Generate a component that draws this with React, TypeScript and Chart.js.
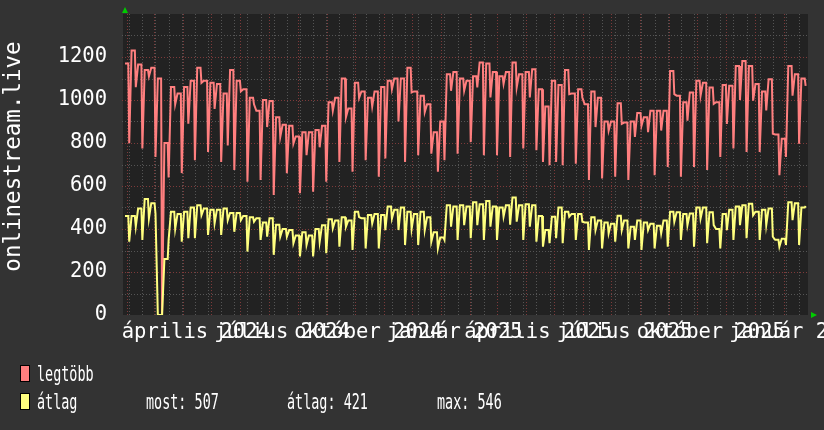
import React, { useEffect, useRef } from "react";
import { Chart, registerables } from "chart.js";

Chart.register(...registerables);

// ---- data (per week: plateau value and weekend/drop value) ----
const legtobbHi = [
  1170, 1230, 1165, 1140, 1150, 1100, 800, 1060, 1030, 1060,
  1090, 1150, 1090, 1080, 1075, 1030, 1140, 1090, 1050, 1010,
  950, 1000, 995, 920, 885, 880, 830, 850, 850, 860,
  880, 990, 1010, 1100, 960, 1080, 1040, 1010, 1040, 1060,
  1090, 1100, 1100, 1150, 1040, 1020, 980, 850, 900, 1120,
  1130, 1100, 1090, 1110, 1175, 1170, 1130, 1110, 1130, 1175,
  1120, 1130, 1143, 1050, 970, 1090, 1070, 1140, 1030, 1050,
  980, 1040, 1010, 900, 900, 985, 895, 900, 940, 920,
  950, 950, 950, 1135, 1020, 990, 1035, 1089, 1080, 1058,
  990, 1070, 1066, 1158, 1181, 1158, 1074, 1040, 1097, 840,
  820, 1158, 1120, 1100,
];
const legtobbLo = [
  800, 1060, 774, 1110, 735, 0, 640, 980, 660, 890,
  720, 1080, 758, 958, 712, 789, 674, 1040, 620, 980,
  628, 874, 558, 828, 659, 797, 566, 743, 573, 780,
  620, 950, 712, 920, 666, 1010, 720, 970, 643, 728,
  1050, 900, 712, 1035, 743, 943, 750, 666, 720, 1043,
  750, 1043, 804, 1058, 743, 1012, 743, 1075, 735, 1058,
  774, 1012, 766, 712, 697, 712, 697, 1027, 704, 1010,
  628, 874, 635, 858, 643, 889, 628, 828, 880, 850,
  650, 858, 689, 1027, 643, 904, 689, 1020, 674, 982,
  735, 889, 774, 1000, 758, 997, 758, 951, 843, 650,
  735, 1020, 797, 1066,
];
const atlagHi = [
  460, 460, 495, 540, 520, 0, 260, 480, 470, 480,
  500, 510, 495, 490, 490, 495, 475, 475, 460, 455,
  450, 430, 450, 420, 400, 395, 370, 385, 370, 400,
  418, 445, 440, 455, 440, 480, 450, 465, 470, 465,
  505, 490, 500, 480, 470, 480, 455, 385, 360, 510,
  505, 510, 505, 525, 515, 530, 505, 500, 510, 546,
  510, 515, 510, 460, 395, 457, 500, 480, 470, 470,
  430, 455, 440, 430, 425, 462, 440, 410, 440, 430,
  425, 415, 440, 480, 478, 470, 472, 500, 500, 478,
  400, 470, 490, 505, 510, 518, 480, 490, 495, 350,
  355, 525, 520, 500,
];
const atlagLo = [
  341, 411, 349, 449, 472, 0, 350, 400, 341, 357,
  357, 464, 372, 426, 372, 441, 387, 441, 295, 434,
  349, 364, 280, 364, 364, 334, 272, 326, 272, 340,
  287, 403, 318, 411, 303, 455, 310, 426, 310, 395,
  449, 395, 326, 400, 326, 395, 341, 310, 350, 411,
  349, 418, 357, 418, 349, 411, 349, 457, 420, 434,
  349, 411, 341, 318, 334, 357, 334, 457, 349, 434,
  303, 395, 310, 380, 341, 395, 310, 349, 303, 395,
  310, 380, 318, 434, 349, 418, 318, 449, 334, 418,
  310, 395, 349, 418, 357, 464, 349, 418, 364, 318,
  326, 441, 326, 507,
];

// x axis: days since 2024-01-30
const DAYS = 728;
const monthStartDays = [2, 31, 62, 92, 123, 153, 184, 215, 245, 276, 306, 337, 368, 396, 427, 457, 488, 518, 549, 580, 610, 641, 671, 702];
const minorGridStartDay = 4.5;
const minorGridStepDays = 14;
const xLabelDays = [76.5, 168.5, 260.5, 352.5, 441.5, 533.5, 625.5, 717.5];
const xLabels = ["április 2024", "július 2024", "október 2024", "január 2025", "április 2025", "július 2025", "október 2025", "január 2026"];
const yTicks = [0, 200, 400, 600, 800, 1000, 1200];
const yMinor = [100, 300, 500, 700, 900, 1100, 1300];
const yMajor = [200, 400, 600, 800, 1000, 1200];
const yTitle = "onlinestream.live";
const seriesNames = ["legtöbb", "átlag"];
const seriesColors = ["#FF7F7F", "#FFFF7F"];
const statLabels = ["most", "átlag", "max"];
const statValues = [507, 421, 546];

const buildPoints = (hi: number[], lo: number[]) => {
  const pts: { x: number; y: number }[] = [];
  hi.forEach((h, w) => {
    const d = w * 7;
    pts.push({ x: d, y: h }, { x: d + 3.5, y: h }, { x: d + 4.5, y: lo[w] });
  });
  return pts;
};

const rrdPlugin = {
  id: "rrdLook",
  beforeDraw(chart: any) {
    const { ctx, chartArea: a } = chart;
    ctx.save();
    ctx.fillStyle = "#222222";
    ctx.fillRect(a.left - 2, a.top, a.right - a.left + 2, a.bottom - a.top);
    ctx.restore();
  },
  beforeDatasetsDraw(chart: any) {
    const { ctx, chartArea: a, scales } = chart;
    const x = scales.x;
    const y = scales.y;
    ctx.save();
    ctx.lineWidth = 1;
    ctx.setLineDash([1, 2]);
    const vline = (d: number) => {
      const px = Math.round(x.getPixelForValue(d)) + 0.5;
      ctx.beginPath();
      ctx.moveTo(px, a.top);
      ctx.lineTo(px, a.bottom + 2);
      ctx.stroke();
    };
    const hline = (v: number) => {
      const py = Math.round(y.getPixelForValue(v)) + 0.5;
      ctx.beginPath();
      ctx.moveTo(a.left - 3, py);
      ctx.lineTo(a.right, py);
      ctx.stroke();
    };
    ctx.strokeStyle = "#555555";
    for (let d = minorGridStartDay; d < DAYS; d += minorGridStepDays) vline(d);
    yMinor.forEach(hline);
    ctx.strokeStyle = "#7E3A3A";
    monthStartDays.forEach(vline);
    yMajor.forEach(hline);
    ctx.restore();
  },
  afterDraw(chart: any) {
    const { ctx, chartArea: a, scales } = chart;
    const x = scales.x;
    const y = scales.y;
    ctx.save();
    ctx.fillStyle = "#FFFFFF";
    // y tick labels
    ctx.font = '20.5px "DejaVu Sans Mono"';
    ctx.textAlign = "right";
    ctx.textBaseline = "middle";
    yTicks.forEach((v) => ctx.fillText(String(v), a.left - 18, y.getPixelForValue(v)));
    // x labels (overlapping, as in the original)
    ctx.textAlign = "center";
    ctx.textBaseline = "alphabetic";
    ctx.font = '20.5px "DejaVu Sans Mono"';
    xLabels.forEach((s, i) => ctx.fillText(s, x.getPixelForValue(xLabelDays[i]) - 1, a.bottom + 23));
    // y title
    ctx.save();
    ctx.translate(14, (a.top + a.bottom) / 2 - 8);
    ctx.rotate(-Math.PI / 2);
    ctx.font = '22.5px "DejaVu Sans Mono"';
    ctx.textAlign = "center";
    ctx.textBaseline = "middle";
    ctx.fillText(yTitle, 0, 0);
    ctx.restore();
    // arrows
    ctx.fillStyle = "#00CC00";
    ctx.beginPath();
    ctx.moveTo(a.left - 3, a.top - 1);
    ctx.lineTo(a.left + 3, a.top - 1);
    ctx.lineTo(a.left, a.top - 7);
    ctx.closePath();
    ctx.fill();
    ctx.beginPath();
    ctx.moveTo(a.right + 3, a.bottom - 3);
    ctx.lineTo(a.right + 3, a.bottom + 3);
    ctx.lineTo(a.right + 9, a.bottom);
    ctx.closePath();
    ctx.fill();
    // legend
    const sx = 0.64;
    const txt = (s: string, px: number, py: number) => {
      ctx.save();
      ctx.translate(px, py);
      ctx.scale(sx, 1);
      ctx.fillText(s, 0, 0);
      ctx.restore();
    };
    ctx.font = '21px "DejaVu Sans Mono"';
    ctx.textAlign = "left";
    ctx.textBaseline = "alphabetic";
    const rows = [381, 409];
    seriesNames.forEach((name, i) => {
      const top = rows[i] - 16;
      ctx.fillStyle = seriesColors[i];
      ctx.fillRect(20, top, 10, 17);
      ctx.strokeStyle = "#000000";
      ctx.lineWidth = 1;
      ctx.strokeRect(20.5, top + 0.5, 9, 16);
      ctx.fillStyle = "#FFFFFF";
      txt(name, 37, rows[i]);
    });
    const statX = [146, 287, 437];
    statLabels.forEach((l, i) => txt(`${l}: ${statValues[i]}`, statX[i], rows[1]));
    ctx.restore();
  },
};

export default function App() {
  const ref = useRef<HTMLCanvasElement>(null);
  useEffect(() => {
    const canvas = ref.current;
    if (!canvas) return;
    const chart = new Chart(canvas, {
      type: "line",
      data: {
        datasets: [
          {
            label: seriesNames[1],
            data: buildPoints(atlagHi, atlagLo),
            borderColor: seriesColors[1],
            borderWidth: 2,
            pointRadius: 0,
            tension: 0,
            order: 0,
          },
          {
            label: seriesNames[0],
            data: buildPoints(legtobbHi, legtobbLo),
            borderColor: seriesColors[0],
            borderWidth: 2,
            pointRadius: 0,
            tension: 0,
            order: 1,
          },
        ],
      },
      options: {
        animation: false,
        responsive: false,
        devicePixelRatio: 1,
        events: [],
        layout: { padding: { left: 125, right: 16, top: 14, bottom: 115 } },
        scales: {
          x: { type: "linear", min: 0, max: DAYS, display: false },
          y: { type: "linear", min: 0, max: 1400, display: false },
        },
        plugins: { legend: { display: false }, tooltip: { enabled: false } },
      },
      plugins: [rrdPlugin],
    } as any);
    return () => chart.destroy();
  }, []);
  return (
    <div style={{ position: "absolute", left: 0, top: 0, width: 824, height: 430, background: "#333333" }}>
      <canvas ref={ref} width={824} height={430} style={{ display: "block", width: 824, height: 430 }} />
    </div>
  );
}
